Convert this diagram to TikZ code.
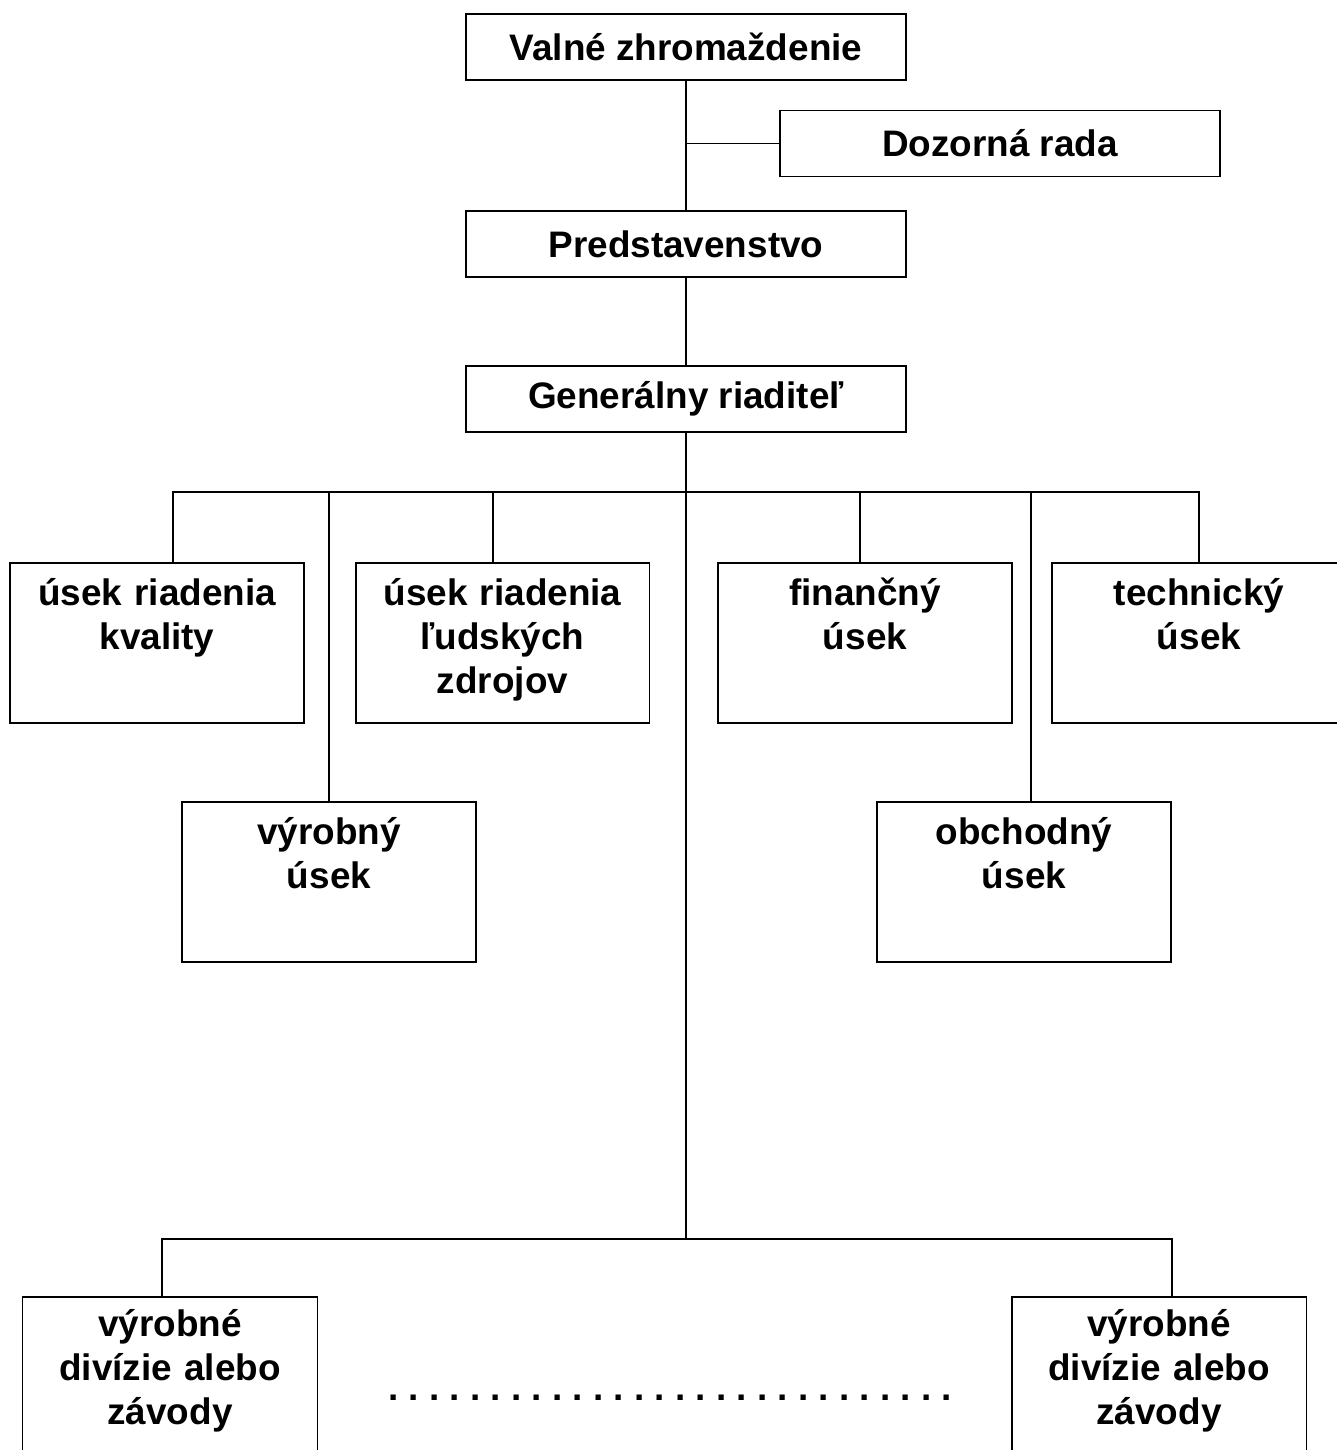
\documentclass[tikz,border=0pt]{standalone}
\usepackage{fontspec}
\setmainfont{Liberation Sans}
\usetikzlibrary{positioning}

\begin{document}
\begin{tikzpicture}[x=0.02cm,y=-0.02cm,line width=1.1pt,
  organ/.style={draw,font=\fontsize{21}{25}\selectfont\bfseries,minimum width=8.8cm,minimum height=1.32cm,inner sep=0pt},
  unit/.style={draw,font=\fontsize{21}{25}\selectfont\bfseries,align=center,text width=5.88cm,inner sep=0pt,anchor=north,text height=0.86cm,text depth=2.34cm},
  plant/.style={unit,text width=5.9cm,text height=0.8cm,text depth=2.6cm}]
\useasboundingbox (0,0) rectangle (1337,1450);
\clip (0,0) rectangle (1337,1450);

% bodies of the company
\node[organ] (valne) at (686,47) {Valné zhromaždenie};
\node[organ] (dozor) at (1000,143.5) {Dozorná rada};
\node[organ] (pred) at (686,244) {Predstavenstvo};
\node[organ] (gen) at (686,399) {Generálny riaditeľ};

% departments
\node[unit] (kval) at (157,562) {úsek riadenia\\kvality};
\node[unit] (ludia) at (502.5,562) {úsek riadenia\\ľudských\\zdrojov};
\node[unit] (fin) at (865,562) {finančný\\úsek};
\node[unit] (tech) at (1199,562) {technický\\úsek};
\node[unit] (vyr) at (329,801) {výrobný\\úsek};
\node[unit] (obch) at (1024,801) {obchodný\\úsek};

% plants
\node[plant] (divA) at (170,1296) {výrobné\\divízie alebo\\závody};
\node[plant] (divB) at (1159,1296) {výrobné\\divízie alebo\\závody};
\node[font=\fontsize{21}{25}\selectfont\bfseries\frenchspacing,anchor=base] (dots) at (670,1400)
  {. . . . . . . . . . . . . . . . . . . . . . . . . . . .};

% joints on the two buses
\coordinate (jkval) at (173,492);
\coordinate (jvyr) at (329,492);
\coordinate (jludia) at (493,492);
\coordinate (jmain) at (686,492);
\coordinate (jfin) at (860,492);
\coordinate (jobch) at (1031,492);
\coordinate (jtech) at (1199,492);
\coordinate (jdivA) at (162,1239);
\coordinate (jplant) at (686,1239);
\coordinate (jdivB) at (1172,1239);

\draw (valne) -- (pred);
\draw (dozor) -- (dozor -| valne);
\draw (pred) -- (gen);
\draw (gen) -- (jplant);
\draw (jkval |- kval.north) -- (jkval) -- (jtech) -- (jtech |- tech.north);
\draw (jdivA |- divA.north) -- (jdivA) -- (jdivB) -- (jdivB |- divB.north);
\foreach \j/\n in {jvyr/vyr,jludia/ludia,jfin/fin,jobch/obch}
  \draw (\j) -- (\j |- \n.north);
\end{tikzpicture}
\end{document}
